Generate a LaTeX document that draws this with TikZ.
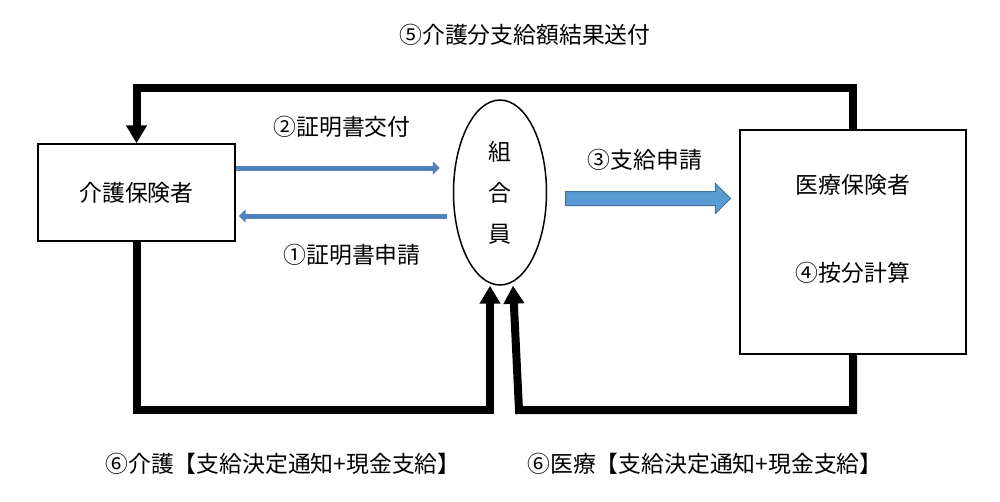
\documentclass[tikz,border=0pt]{standalone}
\usepackage{fontspec}
\newfontfamily\jpfont{Noto Sans CJK JP}
\usetikzlibrary{shapes.geometric, shapes.arrows, arrows.meta, calc}
\definecolor{thinblue}{RGB}{79,129,189}
\definecolor{arrfill}{RGB}{91,155,213}
\definecolor{arredge}{RGB}{65,113,156}

\begin{document}
\begin{tikzpicture}[x=.02cm, y=-.02cm,
  every node/.style={font=\jpfont\fontsize{13}{16}\selectfont},
  boxnode/.style={draw, line width=.03cm, inner sep=0},
  thinarr/.style={draw=thinblue, line width=.1cm, -{Triangle[length=.14cm, width=.26cm]}},
  loopline/.style={line width=.16cm, -{Triangle[length=.36cm, width=.4cm]}},
  bigarrow/.style={single arrow, draw=arredge, fill=arrfill, line width=.02cm,
    inner xsep=0, inner ysep=.13cm, single arrow head extend=.16cm,
    minimum width=.58cm, minimum height=3.3cm}]
\useasboundingbox (0,0) rectangle (1000,501);
\node[boxnode, minimum width=3.94cm, minimum height=1.94cm] (kaigo) at (136.5,192.5) {介護保険者};
\node[boxnode, minimum width=4.52cm, minimum height=4.48cm] (iryo) at (853,242) {};
\node (iryoname) at (853,185) {医療保険者};
\node (anbun) at (853,273) {④按分計算};
\node[ellipse, draw, line width=.03cm, minimum width=1.86cm, minimum height=3.7cm,
  align=center, font=\jpfont\fontsize{13}{23.3pt}\selectfont] (kumiai) at (500,192.5)
  {組\\合\\員};
\coordinate (top) at (500,88);
\coordinate (bot) at (500,410);
\coordinate (y2) at (0,168);
\coordinate (y1) at (0,216);
\draw[thinarr, shorten >=.26cm] (kaigo.east |- y2) -- (kumiai.west |- y2);
\draw[thinarr, shorten <=.12cm, shorten >=.06cm] (kumiai.west |- y1) -- (kaigo.east |- y1);
\node[bigarrow] (shinsei) at (644.5,198.5) {};
\draw[loopline] (iryo.north) |- (top) -| (kaigo.north);
\coordinate (lin) at ($(kumiai.south)+(-10,0)$);
\coordinate (rin) at ($(kumiai.south)+(13,0)$);
\coordinate (rfoot) at ($(kumiai.south)+(19,0)$);
\draw[loopline] (kaigo.south) |- (lin |- bot) -- (lin);
\draw[loopline] (iryo.south) |- (rfoot |- bot) -- (rin);
\node (kekka) at (525,35) {⑤介護分支給額結果送付};
\node (koufu) at (342,127) {②証明書交付};
\node (shomei) at (352,255) {①証明書申請};
\node (shikyu) at (645,160) {③支給申請};
\node (kaigotsuchi) at (283,464) {⑥介護【支給決定通知+現金支給】};
\node (iryotsuchi) at (705,464) {⑥医療【支給決定通知+現金支給】};
\end{tikzpicture}
\end{document}
